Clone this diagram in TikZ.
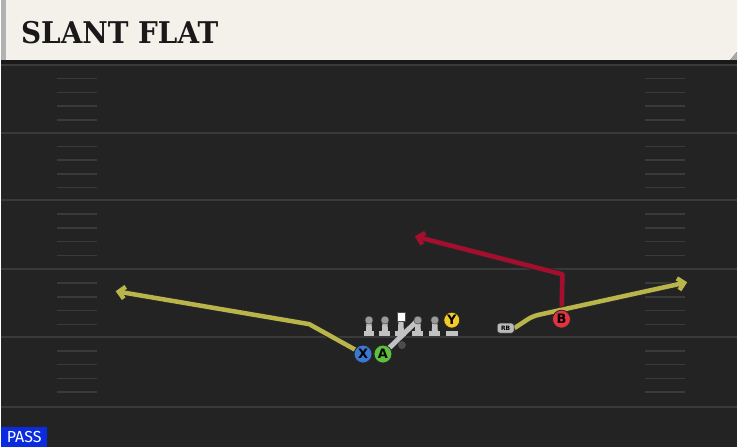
\documentclass[tikz,border=0pt]{standalone}
\usepackage{fontspec}
\setmainfont{DejaVu Sans}[BoldFont={DejaVu Sans Bold}]
\newfontfamily\titlefont{DejaVu Serif Bold}[FakeStretch=0.93]
\newfontfamily\tagfont{Fira Sans}
\usetikzlibrary{positioning}
\usetikzlibrary{arrows.meta}
\definecolor{field}{HTML}{232323}
\definecolor{yardline}{HTML}{3A3A3A}
\definecolor{paper}{HTML}{F4F1EA}
\definecolor{route}{HTML}{B9B54B}
\definecolor{redroute}{HTML}{A50F2D}
\definecolor{xblue}{HTML}{3C78D2}
\definecolor{agreen}{HTML}{5CC23C}
\definecolor{yyellow}{HTML}{F2CB2A}
\definecolor{bred}{HTML}{E2333F}
\definecolor{passblue}{HTML}{0A2BE0}
\definecolor{ol}{HTML}{C2C2C2}
\pgfdeclarelayer{grass}
\pgfdeclarelayer{routes}
\pgfsetlayers{grass,routes,main}

\begin{document}
\begin{tikzpicture}
    [x=1pt, y=-1pt,
      player/.style={circle, draw=black!85, line width=0.8pt, minimum size=18pt,
        inner sep=0pt, font=\bfseries\fontsize{13}{13}\selectfont},
      linehead/.style={circle, fill=ol!80!black, draw=black!70, line width=0.5pt,
        minimum size=8pt, inner sep=0pt},
      snap/.style={rectangle, fill=white, draw=black!70, line width=0.5pt,
        minimum width=8pt, minimum height=9pt, inner sep=0pt},
      back/.style={rectangle, rounded corners=2.5pt, fill=gray!55, draw=black!80,
        line width=0.7pt, minimum width=17pt, minimum height=10pt, inner sep=0pt,
        font=\bfseries\fontsize{6}{6}\selectfont},
      path/.style={line width=4.5pt, line join=round, draw=#1,
        preaction={draw=black!85, line width=6.5pt},
        -{Straight Barb[length=6pt, width=12pt]}},
      hash/.style={yardline, line width=1.5pt},
     ]
    % field and header
    \begin{pgfonlayer}{grass}
    \fill[field] (0,0) rectangle (738,448);
    \fill[black!90] (0,58) rectangle (738,65);
    \fill[paper] (0,0) -- (738,0) -- (738,52) -- (731,60) -- (0,60) -- cycle;
    \fill[gray!60] (0,0) rectangle (5,60);
    \fill[gray!70] (738,52) -- (738,60) -- (731,60) -- cycle;
    \foreach \y in {65,133,201,270,338,408}
      \draw[yardline, line width=2pt] (0,\y) -- (738,\y);
    \foreach \y in {65,133,201,270,338}
      \foreach \k in {1,...,4} {
        \draw[hash] (56,\y+\k*13.8) -- (96,\y+\k*13.8);
        \draw[hash] (646,\y+\k*13.8) -- (686,\y+\k*13.8);
      }
    \end{pgfonlayer}
    \node[anchor=base west, inner sep=0pt, text=black!90, font=\titlefont\fontsize{30}{30}\selectfont]
      (title) at (20,44) {SLANT FLAT};
    % players
    \node[player, fill=xblue] (X) at (363,355) {X};
    \node[player, fill=agreen] (A) at (383,355) {A};
    \node[player, fill=bred] (B) at (562,320) {B};
    \node[back] (RB) at (506,329) {RB};
    \coordinate (xcut) at (309,325);
    \coordinate (xend) at (115,292);
    \coordinate (bcut) at (563,275);
    \coordinate (bend) at (415,237);
    \coordinate (rcut) at (533,317);
    \coordinate (rend) at (688,283);
    % line
    \foreach \x/\n in {369/lt, 385/lg, 401/c, 418/rg, 435/rt} {
      \fill[ol] (\x-2.5,322) -- (\x+2.5,322) -- (\x+3,332) -- (\x-3,332) -- cycle;
      \fill[ol] (\x-5.5,331.5) rectangle (\x+5.5,337);
    }
    \foreach \x/\n in {369/lt, 385/lg, 418/rg, 435/rt}
      \node[linehead] (\n) at (\x,321) {};
    \node[snap] (c) at (401,317.5) {};
    \node[circle, fill=gray!60!black, minimum size=8pt, inner sep=0pt] (qb) at (402,346) {};
    \fill[ol] (446,332) rectangle (458,337);
    \node[player, fill=yyellow, minimum size=16pt] (Y) at (452,321) {Y};
    % routes
    \begin{pgfonlayer}{routes}
    \draw[path=route] (X.center) -- (xcut) -- (xend);
    \draw[path=redroute] (B.center) -- (bcut) -- (bend);
    \draw[path=route, rounded corners=6pt] (RB.east) -- (rcut) -- (rend);
    \draw[ol, line width=5pt, line cap=round] (A.center) -- (rg.center);
    \end{pgfonlayer}
    % tag
    \node[fill=passblue, text=white, anchor=south west, minimum width=46pt, minimum height=20pt,
      inner sep=0pt, font=\tagfont\fontsize{16}{16}\selectfont] (pass) at (0,448) {PASS};
\end{tikzpicture}
\end{document}
